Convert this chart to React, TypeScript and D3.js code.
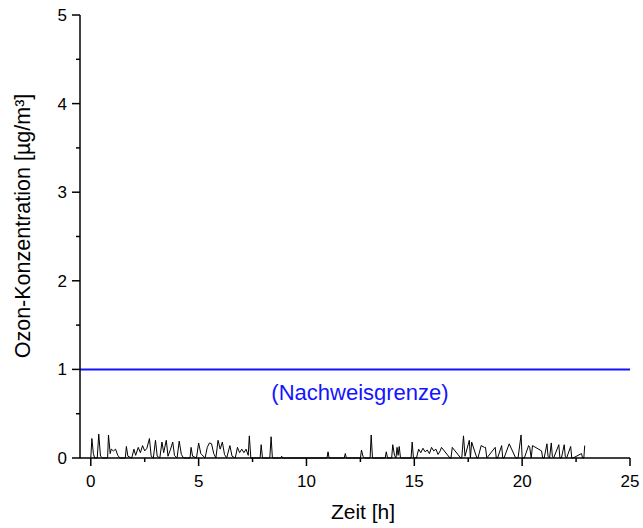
import React from "react";
import * as d3 from "d3";

const times: number[] = [
  0.0, 0.05, 0.12, 0.18, 0.3, 0.37, 0.45, 0.55, 0.78, 0.82, 0.9, 0.95, 1.05, 1.15, 1.25, 1.35,
  1.6, 1.65, 1.72, 1.9, 2.0, 2.08, 2.2, 2.3, 2.4, 2.5, 2.6, 2.72, 2.8, 2.9, 3.0, 3.08, 3.2,
  3.3, 3.38, 3.5, 3.58, 3.7, 3.8, 3.88, 4.0, 4.1, 4.2, 4.3, 4.6, 4.65, 4.72, 4.9, 5.0, 5.1,
  5.3, 5.4, 5.5, 5.6, 5.7, 5.8, 5.9, 6.0, 6.1, 6.2, 6.3, 6.45, 6.55, 6.7, 6.8, 6.9, 7.0, 7.1,
  7.2, 7.3, 7.35, 7.42, 7.85, 7.9, 7.96, 8.3, 8.36, 8.42, 8.8, 8.85, 8.9, 10.95, 11.0, 11.05,
  11.75, 11.8, 11.85, 12.5, 12.55, 12.62, 12.68, 12.95, 13.0, 13.06, 13.65, 13.7, 13.76,
  13.95, 14.0, 14.08, 14.15, 14.2, 14.25, 14.3, 14.36, 14.85, 14.9, 14.96, 15.1, 15.2, 15.3,
  15.4, 15.5, 15.6, 15.7, 15.8, 15.9, 16.0, 16.1, 16.2, 16.26, 16.65, 16.7, 16.76, 17.15,
  17.2, 17.28, 17.35, 17.55, 17.6, 17.66, 17.9, 17.95, 18.1, 18.25, 18.3, 18.36, 18.75, 18.8,
  18.86, 19.05, 19.1, 19.16, 19.4, 19.7, 19.75, 19.81, 19.95, 20.0, 20.1, 20.3, 20.35, 20.42,
  20.48, 20.9, 20.95, 21.02, 21.15, 21.2, 21.27, 21.35, 21.4, 21.46, 21.7, 21.75, 21.82,
  21.95, 22.0, 22.06, 22.25, 22.3, 22.36, 22.75, 22.8, 22.86, 22.9,
];

const values: number[] = [
  0.0, 0.22, 0.05, 0.0, 0.0, 0.27, 0.02, 0.0, 0.0, 0.26, 0.05, 0.1, 0.08, 0.1, 0.03, 0.0,
  0.0, 0.13, 0.02, 0.0, 0.1, 0.03, 0.12, 0.06, 0.14, 0.08, 0.11, 0.22, 0.02, 0.0, 0.2, 0.02, 0.0,
  0.18, 0.06, 0.2, 0.02, 0.1, 0.18, 0.03, 0.0, 0.19, 0.04, 0.0, 0.0, 0.12, 0.02, 0.0, 0.17, 0.05,
  0.0, 0.12, 0.17, 0.16, 0.05, 0.0, 0.2, 0.1, 0.18, 0.04, 0.0, 0.14, 0.02, 0.0, 0.12, 0.06, 0.1, 0.06,
  0.1, 0.03, 0.25, 0.0, 0.0, 0.15, 0.0, 0.0, 0.24, 0.0, 0.0, 0.02, 0.0, 0.0, 0.07, 0.0,
  0.0, 0.05, 0.0, 0.0, 0.09, 0.02, 0.0, 0.0, 0.26, 0.0, 0.0, 0.07, 0.0,
  0.0, 0.15, 0.03, 0.0, 0.12, 0.03, 0.13, 0.0, 0.0, 0.18, 0.0, 0.0, 0.1, 0.06,
  0.11, 0.07, 0.09, 0.05, 0.12, 0.08, 0.1, 0.04, 0.08, 0.12, 0.0, 0.0, 0.12, 0.0, 0.0,
  0.25, 0.02, 0.2, 0.0, 0.18, 0.0, 0.0, 0.14, 0.12, 0.12, 0.0, 0.12, 0.0, 0.0, 0.14,
  0.0, 0.0, 0.16, 0.0, 0.0, 0.0, 0.26, 0.0, 0.0, 0.14, 0.12, 0.0, 0.14, 0.08,
  0.0, 0.0, 0.16, 0.02, 0.0, 0.17, 0.02, 0.0, 0.15, 0.0, 0.0, 0.15, 0.02,
  0.0, 0.13, 0.0, 0.0, 0.05, 0.0, 0.0, 0.14, 0.05, 0.0,
];

const xTicks = [0, 5, 10, 15, 20, 25];
const yTicks = [0, 1, 2, 3, 4, 5];
const xMinor = [2.5, 7.5, 12.5, 17.5, 22.5];
const yMinor = [0.5, 1.5, 2.5, 3.5, 4.5];
const limitValue = 1;
const limitLabel = "(Nachweisgrenze)";
const xTitle = "Zeit [h]";
const yTitle = "Ozon-Konzentration [µg/m³]";

export default function App() {
  const W = 643, H = 528;
  const left = 80, right = 630, top = 15, bottom = 458;
  const x = d3.scaleLinear().domain([-0.5, 25]).range([left, right]);
  const y = d3.scaleLinear().domain([0, 5]).range([bottom, top]);
  const pts = times.map((t, i) => [t, values[i]] as [number, number]);
  const line = d3.line<[number, number]>().x((d) => x(d[0])).y((d) => y(d[1]));
  const font = "Arial, 'Liberation Sans', sans-serif";
  return (
    <svg width={W} height={H} style={{ position: "absolute", left: 0, top: 0 }} fontFamily={font}>
      <rect width={W} height={H} fill="#fff" />
      <path d={line(pts) || ""} fill="none" stroke="#000" strokeWidth={1} />
      <line x1={left} x2={right} y1={y(limitValue)} y2={y(limitValue)} stroke="#1414ff" strokeWidth={2} />
      <text x={360} y={400} fontSize={22} fill="#1414ff" textAnchor="middle">{limitLabel}</text>
      <line x1={left} x2={left} y1={top} y2={bottom} stroke="#000" strokeWidth={1.5} />
      <line x1={left} x2={right} y1={bottom} y2={bottom} stroke="#000" strokeWidth={1.5} />
      {yTicks.map((v) => (
        <g key={"y" + v}>
          <line x1={left - 8} x2={left} y1={y(v)} y2={y(v)} stroke="#000" strokeWidth={1.5} />
          <text x={67} y={y(v) + 6} fontSize={17} textAnchor="end">{v}</text>
        </g>
      ))}
      {yMinor.map((v) => (
        <line key={"ym" + v} x1={left - 4} x2={left} y1={y(v)} y2={y(v)} stroke="#000" strokeWidth={1.5} />
      ))}
      {xTicks.map((v) => (
        <g key={"x" + v}>
          <line x1={x(v)} x2={x(v)} y1={bottom} y2={bottom + 8} stroke="#000" strokeWidth={1.5} />
          <text x={x(v)} y={487} fontSize={17} textAnchor="middle">{v}</text>
        </g>
      ))}
      {xMinor.map((v) => (
        <line key={"xm" + v} x1={x(v)} x2={x(v)} y1={bottom} y2={bottom + 4} stroke="#000" strokeWidth={1.5} />
      ))}
      <text x={363} y={519} fontSize={21} textAnchor="middle">{xTitle}</text>
      <text transform={`translate(30, 226) rotate(-90)`} fontSize={21.5} textAnchor="middle">{yTitle}</text>
    </svg>
  );
}
